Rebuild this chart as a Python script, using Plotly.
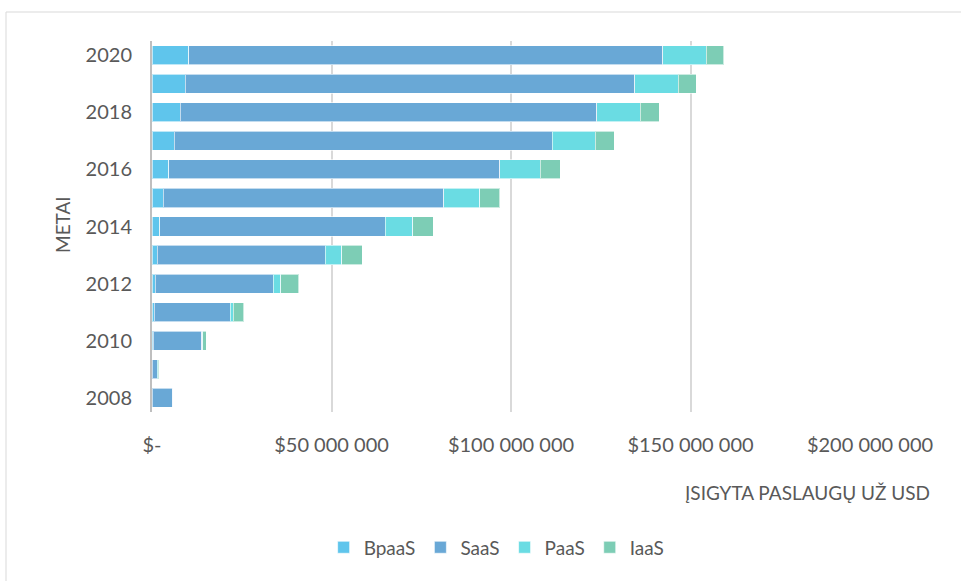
import plotly.graph_objects as go

# Annual purchases of cloud services by model, USD millions
years = [2008, 2009, 2010, 2011, 2012, 2013, 2014, 2015, 2016, 2017, 2018, 2019, 2020]
bpaas = [0.0, 0.1, 0.4, 0.6, 0.9, 1.4, 2.1, 3.1, 4.6, 6.2, 7.8, 9.2, 10.2]
saas = [5.8, 1.4, 13.4, 21.2, 32.9, 46.9, 62.9, 78.2, 92.3, 105.3, 116.1, 125.3, 132.1]
paas = [0.0, 0.2, 0.4, 0.8, 2.1, 4.6, 7.6, 10.0, 11.3, 11.9, 12.1, 12.1, 12.1]
iaas = [0.0, 0.2, 0.9, 2.9, 5.0, 5.6, 5.7, 5.5, 5.5, 5.3, 5.3, 5.0, 4.8]

x_ticks = [0, 50e6, 100e6, 150e6, 200e6]
x_tick_text = ["$-", "$50 000 000", "$100 000 000", "$150 000 000", "$200 000 000"]
y_ticks = [2008, 2010, 2012, 2014, 2016, 2018, 2020]

series = [
    ("BpaaS", bpaas, "#5FC5EC"),
    ("SaaS", saas, "#69A8D6"),
    ("PaaS", paas, "#6ADCE3"),
    ("IaaS", iaas, "#7DCDB5"),
]

FONT = "Lato, Open Sans, sans-serif"
GREY = "#595959"

fig = go.Figure()
for name, vals, color in series:
    fig.add_trace(go.Bar(
        name=name,
        y=years,
        x=[v * 1e6 for v in vals],
        orientation="h",
        marker=dict(color=color, line=dict(color="rgba(255,255,255,0.6)", width=1)),
    ))

fig.update_layout(
    barmode="stack",
    bargap=0.33,
    width=961,
    height=581,
    margin=dict(l=152, r=91, t=41, b=169),
    paper_bgcolor="white",
    plot_bgcolor="white",
    font=dict(family=FONT, size=18, color=GREY),
    showlegend=True,
    legend=dict(
        orientation="h",
        x=0.48, xanchor="center",
        y=-0.365, yanchor="middle",
        traceorder="normal",
        font=dict(size=19, color=GREY),
        itemwidth=30,
    ),
    xaxis=dict(
        range=[0, 200e6],
        tickvals=x_ticks,
        ticktext=x_tick_text,
        showgrid=True,
        gridcolor="#D9D9D9",
        gridwidth=2,
        zeroline=False,
        showline=False,
        ticks="",
        ticklabelstandoff=19,
        tickfont=dict(size=20, color=GREY),
        layer="above traces",
    ),
    yaxis=dict(
        range=[2007.5, 2020.5],
        tickvals=y_ticks,
        showgrid=False,
        zeroline=False,
        showline=True,
        linecolor="#BFBFBF",
        linewidth=2,
        ticks="",
        ticklabelstandoff=14,
        tickfont=dict(size=20, color=GREY),
    ),
    shapes=[
        dict(type="rect", xref="paper", yref="paper",
             x0=-146 / 718, x1=1.2, y0=-0.6, y1=1 + 29 / 371,
             line=dict(color="#D9D9D9", width=1), fillcolor="rgba(0,0,0,0)",
             layer="below"),
    ],
    annotations=[
        dict(text="ĮSIGYTA PASLAUGŲ UŽ USD", xref="paper", yref="paper",
             x=(932 - 152) / 718, y=-(492 - 412) / 371,
             xanchor="right", yanchor="middle", showarrow=False,
             font=dict(size=19, color=GREY)),
        dict(text="METAI", xref="paper", yref="paper",
             x=-(152 - 62) / 718, y=(412 - 225) / 371,
             xanchor="center", yanchor="middle", textangle=-90, showarrow=False,
             font=dict(size=19, color=GREY)),
    ],
)

fig.write_html("out.html")
